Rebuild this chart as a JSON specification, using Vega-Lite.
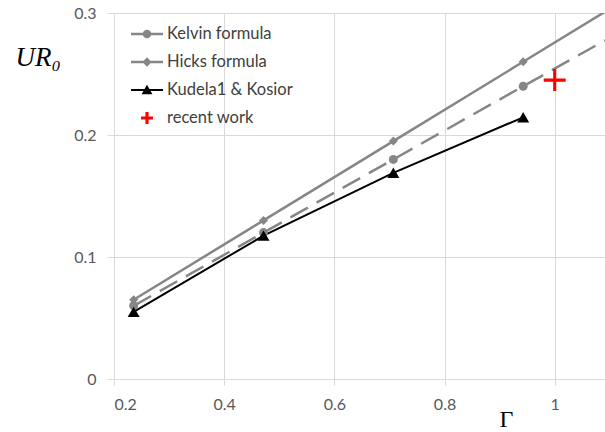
{
  "$schema": "https://vega.github.io/schema/vega-lite/v6.json",
  "width": 491,
  "height": 366,
  "autosize": "none",
  "padding": {"left": 114, "top": 13, "right": 0, "bottom": 53},
  "background": "white",
  "config": {
    "view": {"stroke": null},
    "axis": {
      "grid": true,
      "gridColor": "#d9d9d9",
      "gridWidth": 1,
      "domain": false,
      "tickColor": "#d9d9d9",
      "labelFont": "Lato",
      "labelFontSize": 16,
      "labelColor": "#595959",
      "format": "~g"
    }
  },
  "datasets": {
    "markers": [
      {"series": "Kelvin formula", "gamma": 0.2357, "ur": 0.060},
      {"series": "Kelvin formula", "gamma": 0.4714, "ur": 0.120},
      {"series": "Kelvin formula", "gamma": 0.7071, "ur": 0.180},
      {"series": "Kelvin formula", "gamma": 0.9428, "ur": 0.240},
      {"series": "Hicks formula", "gamma": 0.2357, "ur": 0.065},
      {"series": "Hicks formula", "gamma": 0.4714, "ur": 0.130},
      {"series": "Hicks formula", "gamma": 0.7071, "ur": 0.195},
      {"series": "Hicks formula", "gamma": 0.9428, "ur": 0.260},
      {"series": "Kudela1 & Kosior", "gamma": 0.2357, "ur": 0.055},
      {"series": "Kudela1 & Kosior", "gamma": 0.4714, "ur": 0.1175},
      {"series": "Kudela1 & Kosior", "gamma": 0.7071, "ur": 0.169},
      {"series": "Kudela1 & Kosior", "gamma": 0.9428, "ur": 0.2145},
      {"series": "recent work", "gamma": 1.0, "ur": 0.245}
    ],
    "lines": [
      {"series": "Kelvin formula", "gamma": 0.2357, "ur": 0.060},
      {"series": "Kelvin formula", "gamma": 0.4714, "ur": 0.120},
      {"series": "Kelvin formula", "gamma": 0.7071, "ur": 0.180},
      {"series": "Kelvin formula", "gamma": 0.9428, "ur": 0.240},
      {"series": "Kelvin formula", "gamma": 1.0913, "ur": 0.2775},
      {"series": "Hicks formula", "gamma": 0.2357, "ur": 0.065},
      {"series": "Hicks formula", "gamma": 0.4714, "ur": 0.130},
      {"series": "Hicks formula", "gamma": 0.7071, "ur": 0.195},
      {"series": "Hicks formula", "gamma": 0.9428, "ur": 0.260},
      {"series": "Hicks formula", "gamma": 1.0913, "ur": 0.301},
      {"series": "Kudela1 & Kosior", "gamma": 0.2357, "ur": 0.055},
      {"series": "Kudela1 & Kosior", "gamma": 0.4714, "ur": 0.1175},
      {"series": "Kudela1 & Kosior", "gamma": 0.7071, "ur": 0.169},
      {"series": "Kudela1 & Kosior", "gamma": 0.9428, "ur": 0.2145}
    ]
  },
  "encoding": {
    "x": {
      "field": "gamma",
      "type": "quantitative",
      "scale": {"domain": [0.2, 1.0913], "nice": false, "zero": false},
      "axis": {
        "values": [0.2, 0.4, 0.6, 0.8, 1],
        "tickSize": 6,
        "labelPadding": 11,
        "title": "Γ",
        "titleFont": "Liberation Serif",
        "titleFontSize": 24,
        "titleFontWeight": "normal",
        "titleColor": "#000000",
        "titleX": 392,
        "titleY": 47,
        "titleBaseline": "alphabetic",
        "titleAlign": "center"
      }
    },
    "y": {
      "field": "ur",
      "type": "quantitative",
      "scale": {"domain": [0, 0.3], "nice": false},
      "axis": {
        "values": [0, 0.1, 0.2, 0.3],
        "tickSize": 7,
        "labelPadding": 11,
        "title": "UR₀",
        "titleFont": "Liberation Serif",
        "titleFontStyle": "italic",
        "titleFontSize": 27,
        "titleFontWeight": "normal",
        "titleColor": "#000000",
        "titleAngle": 0,
        "titleX": -99,
        "titleY": 52,
        "titleAlign": "left",
        "titleBaseline": "alphabetic"
      }
    }
  },
  "layer": [
    {
      "data": {"name": "lines"},
      "transform": [{"filter": "datum.series === 'Hicks formula'"}],
      "mark": {"type": "line", "color": "#868686", "strokeWidth": 2.5, "clip": true}
    },
    {
      "data": {"name": "lines"},
      "transform": [{"filter": "datum.series === 'Kelvin formula'"}],
      "mark": {"type": "line", "color": "#868686", "strokeWidth": 2.5, "strokeDash": [20, 10], "clip": true}
    },
    {
      "data": {"name": "lines"},
      "transform": [{"filter": "datum.series === 'Kudela1 & Kosior'"}],
      "mark": {"type": "line", "color": "#000000", "strokeWidth": 2, "clip": true}
    },
    {
      "data": {"name": "markers"},
      "transform": [{"filter": "datum.series === 'Kelvin formula'"}],
      "mark": {"type": "point", "shape": "circle", "filled": true, "color": "#868686", "size": 81, "opacity": 1}
    },
    {
      "data": {"name": "markers"},
      "transform": [{"filter": "datum.series === 'Hicks formula'"}],
      "mark": {"type": "point", "shape": "diamond", "filled": true, "color": "#868686", "size": 81, "opacity": 1}
    },
    {
      "data": {"name": "markers"},
      "transform": [{"filter": "datum.series === 'Kudela1 & Kosior'"}],
      "mark": {"type": "point", "shape": "triangle-up", "filled": true, "color": "#000000", "size": 144, "opacity": 1}
    },
    {
      "data": {"name": "markers"},
      "transform": [{"filter": "datum.series === 'recent work'"}],
      "mark": {"type": "point", "shape": "M-0.14,-1H0.14V-0.14H1V0.14H0.14V1H-0.14V0.14H-1V-0.14H-0.14Z", "filled": true, "color": "#ff0000", "size": 484, "opacity": 1}
    },
    {
      "data": {"name": "markers"},
      "mark": {"type": "point", "filled": true, "opacity": 0, "strokeWidth": 0},
      "encoding": {
        "color": {
          "field": "series",
          "type": "nominal",
          "scale": {
            "domain": ["Kelvin formula", "Hicks formula", "Kudela1 & Kosior", "recent work"],
            "range": ["#868686", "#868686", "#000000", "#ff0000"]
          },
          "legend": {
            "title": null,
            "orient": "none",
            "legendX": 20,
            "legendY": 8,
            "symbolSize": 676,
            "symbolStrokeWidth": 0,
            "symbolOpacity": 1,
            "labelFont": "Lato",
            "labelFontSize": 16.5,
            "labelColor": "#404040",
            "labelOffset": 7,
            "rowPadding": 6,
            "padding": 0
          }
        },
        "shape": {
          "field": "series",
          "type": "nominal",
          "scale": {
            "domain": ["Kelvin formula", "Hicks formula", "Kudela1 & Kosior", "recent work"],
            "range": [
              "M-1.23,-0.1H1.23V0.1H-1.23Z M-0.33,0A0.33,0.33 0 1,1 0.33,0A0.33,0.33 0 1,1 -0.33,0Z",
              "M-1.23,-0.1H1.23V0.1H-1.23Z M0,-0.36L0.36,0L0,0.36L-0.36,0Z",
              "M-1.23,-0.08H1.23V0.08H-1.23Z M0,-0.4L0.42,0.32H-0.42Z",
              "M-0.12,-0.46H0.12V-0.12H0.46V0.12H0.12V0.46H-0.12V0.12H-0.46V-0.12H-0.12Z"
            ]
          },
          "legend": {
            "title": null,
            "orient": "none",
            "legendX": 20,
            "legendY": 8,
            "symbolSize": 676,
            "symbolStrokeWidth": 0,
            "symbolOpacity": 1,
            "labelFont": "Lato",
            "labelFontSize": 16.5,
            "labelColor": "#404040",
            "labelOffset": 7,
            "rowPadding": 6,
            "padding": 0
          }
        }
      }
    }
  ]
}
